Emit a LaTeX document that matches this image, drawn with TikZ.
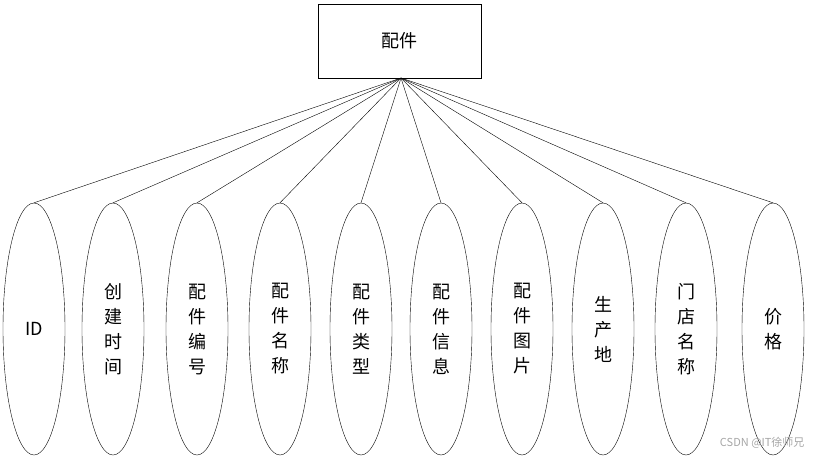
\documentclass[tikz,border=0pt]{standalone}
\usepackage{fontspec}
\setmainfont{Noto Sans CJK SC}
\usetikzlibrary{shapes.geometric}
\begin{document}
\begin{tikzpicture}[x=1pt,y=-1pt,
  ent/.style={draw,minimum width=163pt,minimum height=74pt,font=\fontsize{18}{20}\selectfont},
  attr/.style={draw,ellipse,minimum width=62pt,minimum height=252pt,inner sep=0pt,align=center,font=\fontsize{18}{25}\selectfont}]
\useasboundingbox (0,0) rectangle (813,460);
\node[ent] (e) at (399.5,41) {配件};
\coordinate (apex) at (401,78);
\foreach \x/\t [count=\i] in {34/ID,113/创\\建\\时\\间,197/配\\件\\编\\号,280/配\\件\\名\\称,361/配\\件\\类\\型,441/配\\件\\信\\息,522/配\\件\\图\\片,603/生\\产\\地,686/门\\店\\名\\称,773/价\\格}{
  \node[attr] (a\i) at (\x,329) {\t};
  \draw (apex) -- (a\i.north);
}
\node[anchor=east,text=gray!70,font=\fontsize{11}{12}\selectfont] (wm) at (808,443) {CSDN @IT徐师兄};
\end{tikzpicture}
\end{document}
